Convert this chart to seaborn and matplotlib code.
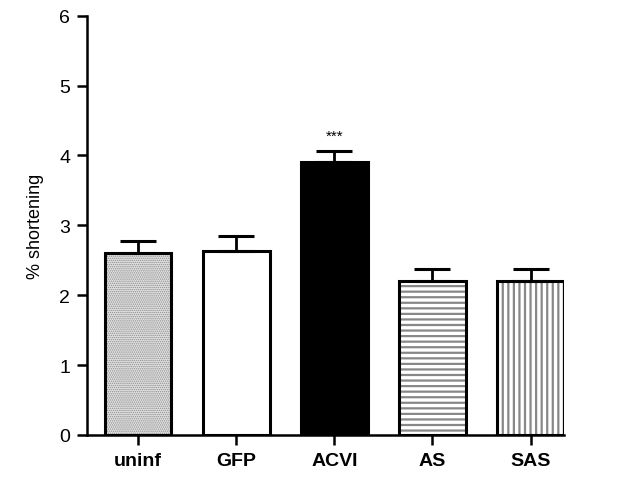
import numpy as np
import pandas as pd
import seaborn as sns
import matplotlib.pyplot as plt

groups = ["uninf", "GFP", "ACVI", "AS", "SAS"]
means = [2.60, 2.63, 3.91, 2.21, 2.21]
sems = [0.18, 0.22, 0.15, 0.16, 0.17]
fills = ["#e2e2e2", "white", "black", "white", "white"]
hatches = ["........", "", "", "---", "|||"]

sns.set_style("ticks")
plt.rcParams['font.family'] = ['Liberation Sans', 'DejaVu Sans']
plt.rcParams['hatch.linewidth'] = 1.6
plt.rcParams['text.color'] = 'black'
plt.rcParams['axes.labelcolor'] = 'black'
plt.rcParams['xtick.color'] = 'black'
plt.rcParams['ytick.color'] = 'black'
plt.rcParams['axes.edgecolor'] = 'black'

df = pd.DataFrame({"group": groups, "mean": means})

fig = plt.figure(figsize=(6.27, 4.85), dpi=100)
ax = fig.add_axes([87/627, 1-436/485, (564-87)/627, (436-16.7)/485])

# fill + hatch layer (grey hatch lines)
sns.barplot(data=df, x="group", y="mean", order=groups, width=0.68,
            errorbar=None, color="white", linewidth=0, ax=ax)
for p, fc, h in zip(ax.patches, fills, hatches):
    p.set_facecolor(fc)
    p.set_hatch(h)
    p.set_edgecolor("#888888" if h else fc)
    p.set_linewidth(0)
    if h.startswith(".") and hasattr(p, "set_hatch_linewidth"):
        p.set_hatch_linewidth(0.7)
        p.set_edgecolor("#8c8c8c")

# black outline layer
sns.barplot(data=df, x="group", y="mean", order=groups, width=0.68,
            errorbar=None, fill=False, edgecolor="black", linewidth=2.2, ax=ax)

# upper-only error bars
x = np.arange(len(groups))
ax.errorbar(x, means, yerr=[np.zeros(len(sems)), sems], fmt="none",
            ecolor="black", elinewidth=2, capsize=13, capthick=2.2, zorder=1)

ax.text(2, means[2] + sems[2] + 0.12, "***", ha="center", va="bottom", fontsize=11)

ax.set_xlim(-0.52, 4.34)
ax.set_ylim(0, 6)
ax.set_yticks(range(7))
ax.set_xlabel("")
ax.set_ylabel("% shortening", fontsize=13, labelpad=11)
sns.despine(ax=ax)
for s in ["left", "bottom"]:
    ax.spines[s].set_linewidth(1.8)
ax.tick_params(axis="both", width=1.8, length=7, labelsize=14, pad=5)
for lab in ax.get_xticklabels():
    lab.set_fontweight("bold")

fig.savefig("out.png", dpi=100)
